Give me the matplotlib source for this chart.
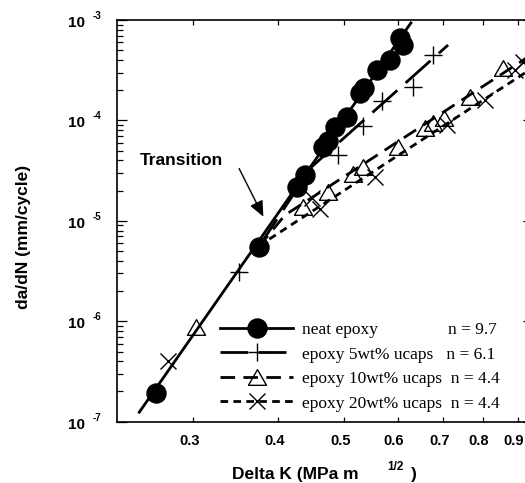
import numpy as np
import matplotlib
matplotlib.use('Agg')
import matplotlib.pyplot as plt
from matplotlib.lines import Line2D
from matplotlib.legend_handler import HandlerLine2D
from matplotlib.path import Path
from matplotlib import transforms as mtrans
from matplotlib.ticker import FixedLocator, NullLocator, LogLocator, NullFormatter

plt.rcParams['lines.scale_dashes'] = False

# ---------------- data ----------------
neat_dk = [0.264, 0.374, 0.426, 0.438, 0.466, 0.474, 0.485, 0.504, 0.528, 0.534, 0.558, 0.584, 0.604, 0.610]
neat_rate = [1.94e-7, 5.48e-6, 2.19e-5, 2.86e-5, 5.47e-5, 6.24e-5, 8.65e-5, 1.09e-4, 1.86e-4, 2.10e-4,
             3.18e-4, 4.0e-4, 6.6e-4, 5.6e-4]

ucap5_dk = [0.3495, 0.490, 0.5335, 0.5677, 0.632, 0.676]
ucap5_rate = [3.11e-6, 4.52e-5, 8.9e-5, 1.57e-4, 2.17e-4, 4.48e-4]

ucap10_dk = [0.303, 0.4354, 0.473, 0.5158, 0.5335, 0.5998, 0.6574, 0.676, 0.701, 0.7655, 0.856]
ucap10_rate = [8.69e-7, 1.38e-5, 1.92e-5, 2.92e-5, 3.40e-5, 5.47e-5, 8.34e-5, 9.35e-5, 1.05e-4, 1.72e-4, 3.33e-4]

ucap20_dk = [0.2756, 0.4486, 0.4612, 0.555, 0.7075, 0.806, 0.892, 0.916]
ucap20_rate = [4.05e-7, 1.69e-5, 1.31e-5, 2.75e-5, 9.0e-5, 1.59e-4, 3.18e-4, 3.82e-4]

# fitted power-law lines
neat_fit_dk = [0.249, 0.6285]
neat_fit_rate = [1.21e-7, 9.6e-4]
ucap5_fit_dk = [0.374, 0.448, 0.711]
ucap5_fit_rate = [5.48e-6, 3.46e-5, 5.64e-4]
ucap10_fit_dk = [0.374, 0.409, 0.948]
ucap10_fit_rate = [5.48e-6, 1.14e-5, 4.61e-4]
ucap20_fit_dk = [0.374, 0.948]
ucap20_fit_rate = [5.6e-6, 3.35e-4]

legend_labels = ["neat epoxy" + " " * 16 + "n = 9.7",
                 "epoxy 5wt% ucaps" + " " * 3 + "n = 6.1",
                 "epoxy 10wt% ucaps" + " " * 2 + "n = 4.4",
                 "epoxy 20wt% ucaps" + " " * 2 + "n = 4.4"]
x_ticks = [0.3, 0.4, 0.5, 0.6, 0.7, 0.8, 0.9]
x_ticklabels = ["0.3", "0.4", "0.5", "0.6", "0.7", "0.8", "0.9"]
y_exponents = [-7, -6, -5, -4, -3]

transition_tip = (0.3802, 1.10e-5)
transition_tail = (0.3502, 3.32e-5)

# ---------------- figure ----------------
W, H = 525, 483
fig = plt.figure(figsize=(W / 100, H / 100), dpi=100)
L, R, T, B = 116.7, 533.0, 20.0, 421.7
ax = fig.add_axes([L / W, (H - B) / H, (R - L) / W, (B - T) / H])
ax.set_xscale('log')
ax.set_yscale('log')
ax.set_xlim(0.2313, 0.948)
ax.set_ylim(1e-7, 1e-3)

LW = 2.0
tri = Path([(-1, -0.866), (1, -0.866), (0, 0.866), (-1, -0.866)], closed=True)

# fit lines
ax.plot(neat_fit_dk, neat_fit_rate, color='k', lw=LW, solid_capstyle='butt', zorder=2)
ax.plot(ucap5_fit_dk, ucap5_fit_rate, color='k', lw=LW, dashes=(24, 8), zorder=2)
ax.plot(ucap10_fit_dk, ucap10_fit_rate, color='k', lw=LW, dashes=(10.5, 6), zorder=2)
ax.plot(ucap20_fit_dk, ucap20_fit_rate, color='k', lw=LW, dashes=(5.5, 3.8), zorder=2)

# markers
ax.plot(neat_dk, neat_rate, ls='none', marker='o', ms=13.7, mfc='k', mec='k', zorder=4, clip_on=False)
ax.plot(ucap5_dk, ucap5_rate, ls='none', marker='+', ms=13, mew=1.0, color='k', zorder=4)
ax.plot(ucap10_dk, ucap10_rate, ls='none', marker=tri, ms=13, mew=1.0, mfc='none', mec='k', zorder=4)
ax.plot(ucap20_dk, ucap20_rate, ls='none', marker='x', ms=12, mew=1.0, color='k', zorder=4)

# axes styling
for s in ax.spines.values():
    s.set_linewidth(1.2)
ax.xaxis.set_major_locator(FixedLocator(x_ticks))
ax.xaxis.set_major_formatter(NullFormatter())
ax.xaxis.set_minor_locator(NullLocator())
ax.yaxis.set_major_locator(LogLocator(base=10, numticks=10))
ax.yaxis.set_minor_locator(LogLocator(base=10, subs=np.arange(2, 10), numticks=20))
ax.yaxis.set_major_formatter(NullFormatter())
ax.yaxis.set_minor_formatter(NullFormatter())
ax.tick_params(axis='x', which='major', direction='in', length=3.8, width=0.9, top=True, bottom=True)
ax.tick_params(axis='y', which='major', direction='in', length=7.5, width=0.9, left=True, right=True)
ax.tick_params(axis='y', which='minor', direction='in', length=4.5, width=0.9, left=True, right=True)

# x tick labels (slightly left of their ticks, as in the reference)
xtr = ax.get_xaxis_transform()
for xv, lab in zip(x_ticks, x_ticklabels):
    ax.text(xv, 0, lab, transform=mtrans.offset_copy(xtr, fig=fig, x=-4, y=-23.3, units='dots'),
            ha='center', va='baseline', fontsize=10.5, fontweight='bold', family='Liberation Sans')

# y tick labels: "10" with superscript exponent
ytr = ax.get_yaxis_transform()
for e in y_exponents:
    v = 10.0 ** e
    ax.text(0, v, '10', transform=mtrans.offset_copy(ytr, fig=fig, x=-31.7, y=-7, units='dots'),
            ha='right', va='baseline', fontsize=11, fontweight='bold', family='Liberation Sans')
    ax.text(0, v, str(e), transform=mtrans.offset_copy(ytr, fig=fig, x=-24.5, y=1, units='dots'),
            ha='left', va='baseline', fontsize=7, fontweight='bold', family='Liberation Sans')

# axis labels
fig.text(24 / W, 1 - 236.5 / H, 'da/dN (mm/cycle)', rotation=90, ha='center', va='center',
         fontsize=12.5, fontweight='bold', family='Liberation Sans')
fig.text(232 / W, 1 - 478.5 / H, 'Delta K (MPa m', ha='left', va='baseline',
         fontsize=12.5, fontweight='bold', family='Liberation Sans')
fig.text(387 / W, 1 - 470 / H, '1/2', ha='left', va='baseline',
         fontsize=8.5, fontweight='bold', family='Liberation Sans')
fig.text(410.7 / W, 1 - 478.5 / H, ')', ha='left', va='baseline',
         fontsize=12.5, fontweight='bold', family='Liberation Sans')

# transition annotation
fig.text(181 / W, 1 - 165 / H, 'Transition', ha='center', va='baseline',
         fontsize=12.5, fontweight='bold', family='Liberation Sans')
ax.annotate('', xy=transition_tip, xytext=transition_tail,
            arrowprops=dict(arrowstyle='-|>,head_length=0.95,head_width=0.42', color='k', lw=1.0,
                            shrinkA=0, shrinkB=0, mutation_scale=10))


# legend
class MarkerRightHandler(HandlerLine2D):
    def get_xdata(self, legend, xdescent, ydescent, width, height, fontsize):
        xdata = np.array([-xdescent, -xdescent + width])
        xdata_marker = np.array([-xdescent + 0.73 * width])
        return xdata, xdata_marker


handles = [
    Line2D([], [], color='k', lw=LW, marker='o', ms=13.7, mfc='k', mec='k'),
    Line2D([], [], color='k', lw=LW, dashes=(20, 7.5), marker='+', ms=13, mew=1.0),
    Line2D([], [], color='k', lw=LW, dashes=(10.5, 6), marker=tri, ms=13, mew=1.0, mfc='none', mec='k'),
    Line2D([], [], color='k', lw=LW, dashes=(5.5, 3.8), marker='x', ms=12, mew=1.0),
]
fs = 12.5
leg = ax.legend(handles, legend_labels, loc='center left',
                bbox_to_anchor=(220 / W, 1 - 366.7 / H), bbox_transform=fig.transFigure,
                frameon=False, borderpad=0, borderaxespad=0,
                handlelength=73 / (fs * 100 / 72), handletextpad=9 / (fs * 100 / 72),
                labelspacing=0.48, numpoints=1,
                prop={'family': 'Liberation Serif', 'size': fs},
                handler_map={Line2D: MarkerRightHandler()})

fig.savefig('out.png', dpi=100, facecolor='white')
